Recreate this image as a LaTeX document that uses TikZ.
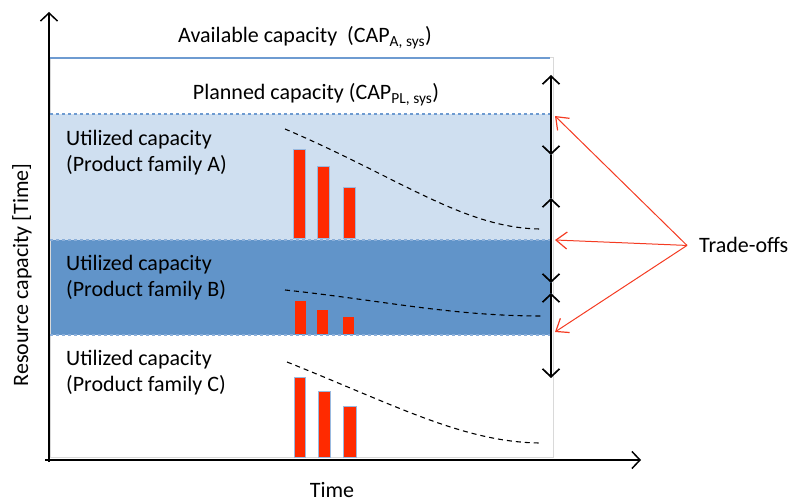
\documentclass[tikz,border=0pt]{standalone}
\usepackage{fontspec}
\setmainfont{Carlito}
\usetikzlibrary{arrows.meta}

\definecolor{bandA}{HTML}{CFDFF0}
\definecolor{bandB}{HTML}{6194C9}
\definecolor{capline}{HTML}{6E9BD1}
\definecolor{barred}{HTML}{FF2A00}
\definecolor{tradered}{HTML}{F43B22}

\tikzset{
  lbl/.style={font=\fontsize{22}{26}\selectfont, inner sep=0pt},
  bar/.style={fill=barred, draw=capline!70, line width=0.8pt},
  trend/.style={line width=1.1pt, dash pattern=on 5pt off 4pt},
  axis/.style={line width=1.4pt, -{Straight Barb[length=8pt,width=17pt,line width=1.5pt]}},
  span/.style={line width=1.3pt, {Straight Barb[length=8pt,width=17pt,line width=1.7pt]}-{Straight Barb[length=8pt,width=17pt,line width=1.7pt]}},
  trade/.style={tradered, line width=1pt, -{Straight Barb[length=11pt,width=17pt,line width=1.2pt]}}
}

\begin{document}
\begin{tikzpicture}[x=1pt, y=-1pt]
  \useasboundingbox (0,0) rectangle (793,502);
  % capacity bands
  \fill[bandA] (50,114) rectangle (552,240);
  \fill[bandB] (50,240) rectangle (552,335);
  \draw[gray!30, line width=1pt] (50,58) rectangle (553,458);
  \draw[capline, line width=1.1pt] (50,58) -- (550,58);
  \draw[capline, line width=1.1pt, dashed] (50,114) -- (552,114);
  \draw[capline!80, line width=1.1pt, dashed] (50,240) -- (552,240);
  \draw[capline!80, line width=1.1pt, dashed] (50,335) -- (552,335);

  % family A
  \draw[bar] (293,149) rectangle (305,238);
  \draw[bar] (317,166) rectangle (329,238);
  \draw[bar] (343,187) rectangle (355,238);
  \draw[trend] (285,129) .. controls (400,178) and (465,229) .. (542,229);
  % family B
  \fill[barred] (295,301) rectangle (306,334);
  \fill[barred] (317,310) rectangle (328,334);
  \fill[barred] (343,317) rectangle (354,334);
  \draw[trend] (285,290) .. controls (380,300) and (450,316) .. (542,316);
  % family C
  \draw[bar] (294,377) rectangle (305,457);
  \draw[bar] (318,391) rectangle (330,457);
  \draw[bar] (343,406) rectangle (356,457);
  \draw[trend] (287,362) .. controls (395,405) and (465,443) .. (542,443);

  % axes
  \draw[axis] (49,462) -- (49,12);
  \draw[axis] (45,460) -- (641,460);
  \node[lbl, rotate=90] (yl) at (22,275) {Resource capacity [Time]};
  \node[lbl, anchor=base] (xl) at (332,497) {Time};

  \node[lbl, anchor=base] (avail) at (305,43) {Available capacity\ \ (CAP\textsubscript{A, sys})};
  \node[lbl, anchor=base] (plan) at (316,100) {Planned capacity (CAP\textsubscript{PL, sys})};
  \node[lbl, anchor=west, align=left] (famA) at (66,153) {Utilized capacity\\(Product family A)};
  \node[lbl, anchor=west, align=left] (famB) at (66,278) {Utilized capacity\\(Product family B)};
  \node[lbl, anchor=west, align=left] (famC) at (66,373) {Utilized capacity\\(Product family C)};

  % spans on the right
  \draw[line width=1.3pt] (551,155) -- (551,198) (551,283) -- (551,293);
  \draw[span] (551,75) -- (551,155);
  \draw[span] (551,198) -- (551,283);
  \draw[span] (551,293) -- (551,378);

  \node[lbl, anchor=base west] (trd) at (699,253) {Trade-offs};
  \coordinate (tAB) at (555,116);
  \coordinate (tBC) at (555,240);
  \coordinate (tC) at (555,332);
  \draw[trade] ([xshift=-12pt]trd.west) -- (tAB);
  \draw[trade] ([xshift=-12pt]trd.west) -- (tBC);
  \draw[trade] ([xshift=-12pt]trd.west) -- (tC);
\end{tikzpicture}
\end{document}
